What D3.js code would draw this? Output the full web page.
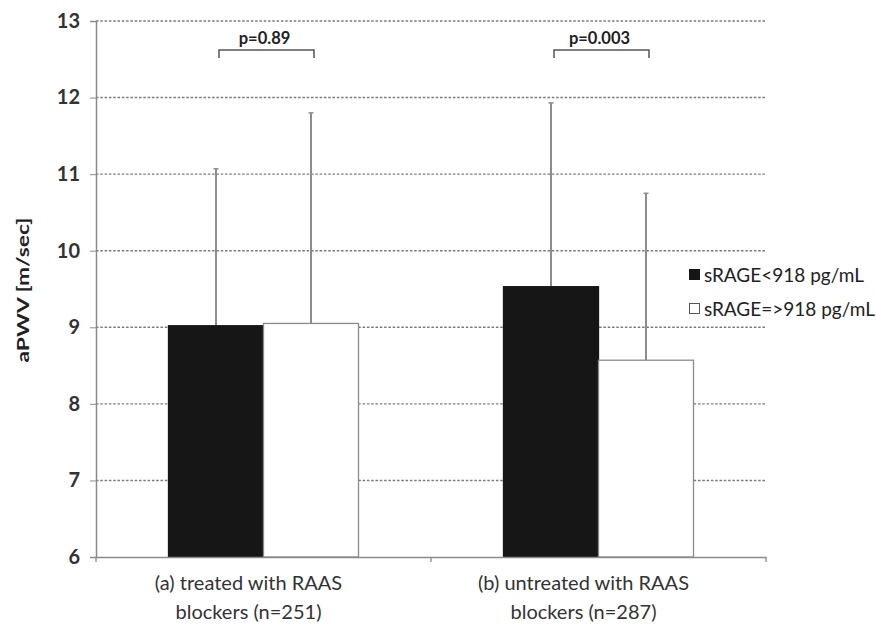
<!DOCTYPE html>
<html>
<head>
<meta charset="utf-8">
<script src="https://cdn.jsdelivr.net/npm/d3@7"></script>
<style>
  body { margin: 0; background: #fff; }
  svg { font-family: Lato, "Open Sans", sans-serif; }
</style>
</head>
<body>
<svg id="chart" width="876" height="626"></svg>
<script>
// data
var categories = ["(a) treated with RAAS|blockers (n=251)", "(b) untreated with RAAS|blockers (n=287)"];
var seriesNames = ["sRAGE<918 pg/mL", "sRAGE=>918 pg/mL"];
var lowMeans = [9.02, 9.53];
var lowErrTops = [11.07, 11.93];
var highMeans = [9.05, 8.57];
var highErrTops = [11.80, 10.75];
var pValues = ["p=0.89", "p=0.003"];
var yTicks = [6, 7, 8, 9, 10, 11, 12, 13];

var svg = d3.select("#chart"),
    margin = {top: 21, right: 110, bottom: 69, left: 96},
    width = 876 - margin.left - margin.right,
    height = 626 - margin.top - margin.bottom;

var g = svg.append("g").attr("transform", "translate(" + margin.left + "," + margin.top + ")");

var x = d3.scaleBand().domain(categories).range([0, width]);
var x1 = d3.scaleBand().domain(seriesNames).range([x.bandwidth() / 2 - 95, x.bandwidth() / 2 + 95]);
var y = d3.scaleLinear().domain([6, 13]).range([height, 0]);

var data = [];
categories.forEach(function(c, i) {
  data.push({cat: c, s: seriesNames[0], v: lowMeans[i], err: lowErrTops[i]});
  data.push({cat: c, s: seriesNames[1], v: highMeans[i], err: highErrTops[i]});
});

// dotted gridlines
g.append("g").selectAll("line")
  .data(yTicks.slice(1))
  .enter().append("line")
    .attr("x1", 0).attr("x2", width)
    .attr("y1", function(d) { return y(d); })
    .attr("y2", function(d) { return y(d); })
    .attr("stroke", "#7a7a7a")
    .attr("stroke-width", 1.4)
    .attr("stroke-dasharray", "2.5,1.8");

// error bars (upper only)
var eb = g.append("g");
eb.selectAll("line.err")
  .data(data).enter().append("line")
    .attr("x1", function(d) { return x(d.cat) + x1(d.s) + x1.bandwidth() / 2; })
    .attr("x2", function(d) { return x(d.cat) + x1(d.s) + x1.bandwidth() / 2; })
    .attr("y1", function(d) { return y(d.v); })
    .attr("y2", function(d) { return y(d.err); })
    .attr("stroke", "#8c8c8c")
    .attr("stroke-width", 2);
eb.selectAll("line.cap")
  .data(data).enter().append("line")
    .attr("x1", function(d) { return x(d.cat) + x1(d.s) + x1.bandwidth() / 2 - 2.5; })
    .attr("x2", function(d) { return x(d.cat) + x1(d.s) + x1.bandwidth() / 2 + 2.5; })
    .attr("y1", function(d) { return y(d.err); })
    .attr("y2", function(d) { return y(d.err); })
    .attr("stroke", "#8c8c8c")
    .attr("stroke-width", 1.5);

// bars
g.append("g").selectAll("rect")
  .data(data).enter().append("rect")
    .attr("x", function(d) { return x(d.cat) + x1(d.s); })
    .attr("y", function(d) { return y(d.v); })
    .attr("width", x1.bandwidth())
    .attr("height", function(d) { return height - y(d.v); })
    .attr("fill", function(d) { return d.s == seriesNames[0] ? "#161616" : "#fff"; })
    .attr("stroke", function(d) { return d.s == seriesNames[0] ? "#161616" : "#8a8a8a"; })
    .attr("stroke-width", 1.3);

// axes
var yAxis = g.append("g")
  .call(d3.axisLeft(y).tickValues(yTicks).tickSize(6).tickPadding(10).tickFormat(d3.format("d")));
yAxis.select(".domain").attr("stroke", "#8a8a8a").attr("stroke-width", 1.5);
yAxis.selectAll(".tick line").attr("stroke", "#8a8a8a");
yAxis.selectAll(".tick text")
  .attr("font-size", 20).attr("fill", "#333").attr("font-family", "Lato, sans-serif").attr("font-weight", "bold");

var xAxis = g.append("g")
  .attr("transform", "translate(0," + height + ")")
  .call(d3.axisBottom(x).tickSize(0).tickFormat(""));
xAxis.select(".domain").attr("stroke", "#8a8a8a").attr("stroke-width", 1.5);

// category boundary ticks
g.append("g").selectAll("line")
  .data([0, 1, 2])
  .enter().append("line")
    .attr("x1", function(d) { return d * x.step(); })
    .attr("x2", function(d) { return d * x.step(); })
    .attr("y1", height).attr("y2", height + 5)
    .attr("stroke", "#8a8a8a").attr("stroke-width", 1.3);

// category labels, two lines
var labelShift = -15;
var lab = g.append("g").selectAll("text")
  .data(categories).enter().append("text")
    .attr("y", height + 33)
    .attr("text-anchor", "middle")
    .attr("font-size", 20)
    .attr("fill", "#333");
lab.each(function(d) {
  var parts = d.split("|");
  var t = d3.select(this);
  parts.forEach(function(p, i) {
    t.append("tspan")
      .attr("x", x(d) + x.bandwidth() / 2 + labelShift)
      .attr("dy", i == 0 ? 0 : 29)
      .text(p);
  });
});

// y axis title
svg.append("text")
  .attr("transform", "translate(29,290) rotate(-90)")
  .attr("text-anchor", "middle")
  .attr("font-size", 17)
  .attr("font-weight", "bold")
  .attr("fill", "#222")
  .attr("textLength", 145)
  .attr("lengthAdjust", "spacingAndGlyphs")
  .text("aPWV [m/sec]");

// significance brackets
var bracketY = y(12.62), bracketDrop = 8;
categories.forEach(function(c, i) {
  var xa = x(c) + x1(seriesNames[0]) + x1.bandwidth() / 2 + 3,
      xb = x(c) + x1(seriesNames[1]) + x1.bandwidth() / 2 + 3;
  g.append("path")
    .attr("d", "M" + xa + "," + (bracketY + bracketDrop) + "V" + bracketY + "H" + xb + "V" + (bracketY + bracketDrop))
    .attr("fill", "none")
    .attr("stroke", "#555")
    .attr("stroke-width", 1.5);
  g.append("text")
    .attr("x", (xa + xb) / 2 - 2)
    .attr("y", bracketY - 6)
    .attr("text-anchor", "middle")
    .attr("font-size", 16.5)
    .attr("font-weight", "bold")
    .attr("fill", "#222")
    .text(pValues[i]);
});

// legend
var legend = svg.append("g").attr("transform", "translate(689,269)");
seriesNames.forEach(function(s, i) {
  var row = legend.append("g").attr("transform", "translate(0," + (i * 34) + ")");
  row.append("rect")
    .attr("x", 0.5).attr("y", 0.5).attr("width", 10).attr("height", 10)
    .attr("fill", i == 0 ? "#161616" : "#fff")
    .attr("stroke", i == 0 ? "#161616" : "#555");
  row.append("text")
    .attr("x", 15).attr("y", 13)
    .attr("font-size", 19)
    .attr("fill", "#222")
    .text(s);
});
</script>
</body>
</html>
